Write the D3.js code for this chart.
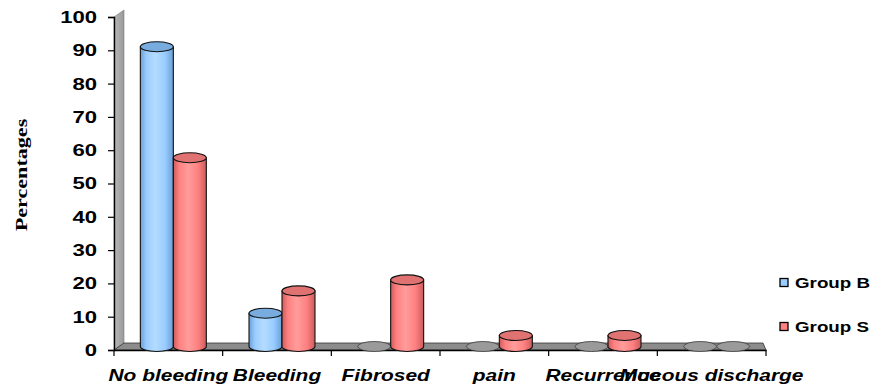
<!DOCTYPE html>
<html>
<head>
<meta charset="utf-8">
<script src="https://cdn.jsdelivr.net/npm/d3@7"></script>
<style>
  html, body { margin: 0; padding: 0; background: #fff; }
  svg { display: block; }
</style>
</head>
<body>
<svg id="chart" width="873" height="387"></svg>
<script>
// Outcome categories and the two groups' percentages
const categories = ["No bleeding", "Bleeding", "Fibrosed", "pain", "Recurrence", "Mucous discharge"];
const seriesNames = ["Group B", "Group S"];
const groupB = [90, 10, 0, 0, 0, 0];
const groupS = [56.7, 16.7, 20, 3.3, 3.3, 0];
const yTicks = [0, 10, 20, 30, 40, 50, 60, 70, 80, 90, 100];

const svg = d3.select("#chart");
const defs = svg.append("defs");

// plot frame (front plane) and 3-D depth offset
const plotLeft = 114, plotRight = 766, plotBottom = 350, plotTop = 17;
const depthX = 10, depthY = -7;

const y = d3.scaleLinear().domain([0, 100]).range([plotBottom, plotTop]);
const x0 = d3.scaleBand().domain(categories).range([plotLeft, plotRight]).padding(0);
const x1 = d3.scaleBand().domain(seriesNames).range([0, x0.bandwidth()])
  .paddingInner(0).paddingOuter(0.647);

const palette = {
  "Group B": { light: "#b4dcff", mid: "#99ccff", dark: "#6a9fd6", top: "#78acde" },
  "Group S": { light: "#ff9c9c", mid: "#ff8080", dark: "#cc5c5c", top: "#e07272" }
};

// widen glyphs horizontally (wide bold face)
function widen(sel, factor) {
  sel.each(function () {
    const w = this.getComputedTextLength();
    d3.select(this).attr("textLength", w * factor).attr("lengthAdjust", "spacingAndGlyphs");
  });
}

// horizontal shading for the cylinder bodies
seriesNames.forEach((s, i) => {
  const c = palette[s];
  const g = defs.append("linearGradient").attr("id", "cyl" + i)
    .attr("x1", "0%").attr("x2", "100%").attr("y1", "0%").attr("y2", "0%");
  g.append("stop").attr("offset", "0%").attr("stop-color", c.dark);
  g.append("stop").attr("offset", "18%").attr("stop-color", c.mid);
  g.append("stop").attr("offset", "45%").attr("stop-color", c.light);
  g.append("stop").attr("offset", "75%").attr("stop-color", c.mid);
  g.append("stop").attr("offset", "100%").attr("stop-color", c.dark);
});
const wallGrad = defs.append("linearGradient").attr("id", "wallGrad")
  .attr("x1", "0%").attr("x2", "100%");
wallGrad.append("stop").attr("offset", "0%").attr("stop-color", "#b8b8b8");
wallGrad.append("stop").attr("offset", "100%").attr("stop-color", "#9a9a9a");

// side wall
svg.append("path")
  .attr("d", `M${plotLeft},${plotBottom} L${plotLeft},${plotTop} L${plotLeft + depthX},${plotTop + depthY} L${plotLeft + depthX},${plotBottom + depthY} Z`)
  .attr("fill", "url(#wallGrad)").attr("stroke", "#7a7a7a").attr("stroke-width", 0.6);

// floor
svg.append("path")
  .attr("d", `M${plotLeft},${plotBottom} L${plotLeft + depthX},${plotBottom + depthY} L${plotRight - 3},${plotBottom + depthY} L${plotRight},${plotBottom} Z`)
  .attr("fill", "#8c8c8c").attr("stroke", "#333").attr("stroke-width", 0.8);

// y axis
const yAxis = svg.append("g").attr("transform", `translate(${plotLeft},0)`)
  .call(d3.axisLeft(y).tickValues(yTicks).tickSize(6).tickPadding(11).tickFormat(d3.format("d")));
yAxis.select(".domain").attr("stroke", "#000").attr("stroke-width", 1.4);
yAxis.selectAll(".tick line").attr("stroke", "#000").attr("stroke-width", 1.2);
yAxis.selectAll(".tick text")
  .attr("font-family", "Liberation Sans, Arial, sans-serif")
  .attr("font-weight", "bold").attr("font-size", 17).attr("fill", "#000")
  .call(widen, 1.3);

// x axis
const xAxis = svg.append("g").attr("transform", `translate(0,${plotBottom})`)
  .call(d3.axisBottom(x0).tickSize(0).tickPadding(19));
xAxis.select(".domain").attr("stroke", "#000").attr("stroke-width", 1.4);
xAxis.selectAll(".tick text")
  .attr("font-family", "Liberation Sans, Arial, sans-serif")
  .attr("font-weight", "bold").attr("font-style", "italic")
  .attr("font-size", 17).attr("fill", "#000")
  .call(widen, 1.23);
// category boundary ticks
svg.append("g").selectAll("line")
  .data(d3.range(categories.length + 1))
  .join("line")
  .attr("x1", i => plotLeft + i * x0.step()).attr("x2", i => plotLeft + i * x0.step())
  .attr("y1", plotBottom).attr("y2", plotBottom + 6)
  .attr("stroke", "#000").attr("stroke-width", 1.2);

// y axis title
svg.append("text")
  .attr("transform", "translate(27,175) rotate(-90)")
  .attr("text-anchor", "middle")
  .attr("font-family", "Liberation Serif, Times New Roman, serif")
  .attr("font-weight", "bold").attr("font-size", 17)
  .text("Percentages")
  .call(widen, 1.3);

// cylinders
const ry = 5;
const rx = x1.bandwidth() / 2;
const baseY = plotBottom + depthY / 2;
const bars = [];
categories.forEach((c, ci) => {
  [groupB, groupS].forEach((vals, si) => {
    bars.push({ cat: c, series: seriesNames[si], si, value: vals[ci] });
  });
});

const barG = svg.append("g");
bars.forEach(d => {
  const cx = x0(d.cat) + x1(d.series) + rx + depthX / 2;
  const topY = y(d.value) + depthY / 2;
  const g = barG.append("g");
  if (d.value <= 0) {
    g.append("ellipse").attr("cx", cx).attr("cy", baseY).attr("rx", rx).attr("ry", ry)
      .attr("fill", "#9a9a9a").attr("stroke", "#3a3a3a").attr("stroke-width", 0.8);
    return;
  }
  g.append("path")
    .attr("d", `M${cx - rx},${topY} L${cx - rx},${baseY} A${rx},${ry} 0 0 0 ${cx + rx},${baseY} L${cx + rx},${topY} Z`)
    .attr("fill", `url(#cyl${d.si})`).attr("stroke", "#111").attr("stroke-width", 1.1);
  g.append("ellipse").attr("cx", cx).attr("cy", topY).attr("rx", rx).attr("ry", ry)
    .attr("fill", palette[d.series].top).attr("stroke", "#111").attr("stroke-width", 1.1);
});

// legend
const legend = svg.append("g");
seriesNames.forEach((s, i) => {
  const ly = 283 + i * 44;
  legend.append("rect").attr("x", 780).attr("y", ly - 4.5).attr("width", 8).attr("height", 8)
    .attr("fill", palette[s].mid).attr("stroke", "#000").attr("stroke-width", 1.3);
  legend.append("text").attr("x", 795).attr("y", ly).attr("dy", "0.36em")
    .attr("font-family", "Liberation Sans, Arial, sans-serif")
    .attr("font-weight", "bold").attr("font-size", 15)
    .text(s)
    .call(widen, 1.25);
});
</script>
</body>
</html>
